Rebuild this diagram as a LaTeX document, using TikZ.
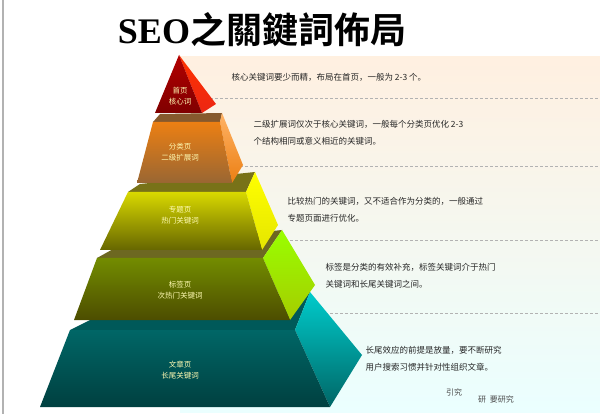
\documentclass[tikz,border=0pt]{standalone}
\usepackage{fontspec}
\newfontfamily\cjk{Noto Sans CJK SC}
\newfontfamily\cjkb{Noto Sans CJK TC Bold}
\newfontfamily\lserif{Liberation Serif}
\begin{document}
\begin{tikzpicture}[x=1pt,y=-1pt,
  lbl/.style={font=\cjk\fontsize{7.5}{11}\selectfont,text=yellow!30,align=center},
  desc/.style={font=\cjk\fontsize{8.5}{17}\selectfont,anchor=west,align=left,text=black!85}]
\useasboundingbox (0,0) rectangle (600,414);
\fill[white] (0,0) rectangle (600,414);
\draw[gray!60,line width=1.5pt] (3,0) -- (3,414);
% background band
\shade[top color=orange!12,bottom color=cyan!8] (180,57) -- (600,57) -- (600,412) -- (180,412) -- cycle;
\foreach \yy in {98,166,240,313} \draw[gray!60,densely dashed] (200,\yy) -- (600,\yy);
% title
\node[font=\cjkb\fontsize{36}{40}\selectfont] (title) at (262,30) {{\lserif\bfseries SEO}之關鍵詞佈局};
% tier 5
\fill[teal!70!black] (70,330) -- (295,330) -- (310,292) -- (90,320) -- cycle;
\shade[top color=cyan!60!teal,bottom color=teal!80!black] (295,330) -- (310,292) -- (362,355) -- (330,407) -- cycle;
\shade[top color=teal!80!black,bottom color=teal!50!black] (70,330) -- (295,330) -- (330,407) -- (40,407) -- cycle;
% tier 4
\fill[olive!70!black] (97,258) -- (263,258) -- (282,230) -- (115,248) -- cycle;
\shade[top color=lime!80!green,bottom color=lime!60!olive] (263,258) -- (282,230) -- (315,285) -- (290,320) -- cycle;
\shade[top color=olive!90!green,bottom color=olive!60!black] (97,258) -- (263,258) -- (290,320) -- (74,320) -- cycle;
% tier 3
\fill[olive!80!black] (128,192) -- (246,192) -- (255,172) -- (140,184) -- cycle;
\shade[top color=yellow,bottom color=yellow!80!olive] (246,192) -- (255,172) -- (278,225) -- (262,250) -- cycle;
\shade[top color=yellow!70!olive,bottom color=olive!80!black] (128,192) -- (246,192) -- (262,250) -- (100,250) -- cycle;
% tier 2
\fill[brown!70!black] (153,122) -- (220,122) -- (222,113) -- (160,114) -- cycle;
\shade[top color=orange!60,bottom color=orange!70!brown] (220,122) -- (222,113) -- (243,165) -- (232,183) -- cycle;
\shade[top color=orange!70!brown,bottom color=brown!80!black] (153,122) -- (220,122) -- (232,183) -- (137,183) -- cycle;
% tier 1
\shade[top color=red!60!orange,bottom color=red!70!brown] (179,55) -- (202,113) -- (216,104) -- cycle;
\shade[top color=red!70!black,bottom color=red!50!black] (179,55) -- (202,113) -- (155,113) -- cycle;
% labels
\node[lbl] (l1) at (180,96) {首页\\核心词};
\node[lbl] (l2) at (180,152) {分类页\\二级扩展词};
\node[lbl] (l3) at (180,215) {专题页\\热门关键词};
\node[lbl] (l4) at (180,290) {标签页\\次热门关键词};
\node[lbl] (l5) at (180,370) {文章页\\长尾关键词};
% descriptions
\node[desc] (d1) at (228,77) {核心关键词要少而精，布局在首页，一般为 2-3 个。};
\node[desc] (d2) at (250,133) {二级扩展词仅次于核心关键词，一般每个分类页优化 2-3\\个结构相同或意义相近的关键词。};
\node[desc] (d3) at (284,210) {比较热门的关键词，又不适合作为分类的，一般通过\\专题页面进行优化。};
\node[desc] (d4) at (322,276) {标签是分类的有效补充，标签关键词介于热门\\关键词和长尾关键词之间。};
\node[desc] (d5) at (362,359) {长尾效应的前提是放量，要不断研究\\用户搜索习惯并针对性组织文章。};
\node[font=\cjk\fontsize{8}{9}\selectfont,text=black!70] (w1) at (454,392) {引究};
\node[font=\cjk\fontsize{8}{9}\selectfont,text=black!70] (w2) at (496,399) {研\ \ 要研究};
\end{tikzpicture}
\end{document}
